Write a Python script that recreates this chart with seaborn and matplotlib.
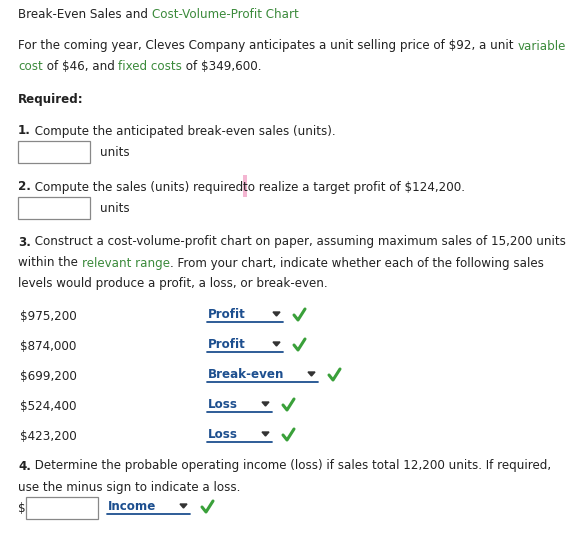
import matplotlib
matplotlib.use("Agg")
import matplotlib.pyplot as plt
import seaborn as sns
from matplotlib.patches import Rectangle, Polygon

sns.set_style("white")
plt.rcParams["font.family"] = ["DejaVu Sans"]

sales_levels = ["$975,200", "$874,000", "$699,200", "$524,400", "$423,200"]
answers = ["Profit", "Profit", "Break-even", "Loss", "Loss"]
answer_widths = [76, 76, 111, 65, 65]

GREEN = "#3b8a3b"
BLUE = "#1d4f8f"
CHECK = "#3aa03a"
FS = 8.6

fig = plt.figure(figsize=(5.81, 5.35), dpi=100)
ax = fig.add_axes([0, 0, 1, 1])
ax.set_xlim(0, 581)
ax.set_ylim(535, 0)
ax.axis("off")
r = fig.canvas.get_renderer()


def runs(x, y, parts, size=FS):
    for txt, col, bold in parts:
        t = ax.text(x, y, txt, color=col, fontsize=size, va="center",
                    fontweight="bold" if bold else "normal")
        bb = t.get_window_extent(renderer=r)
        x += bb.width
    return x


def box(x, y, w=72, h=22):
    ax.add_patch(Rectangle((x, y), w, h, fill=False, ec="#888888", lw=0.9))


def check(x, y):
    ax.plot([x, x + 4, x + 11], [y, y + 5, y - 6], color=CHECK, lw=2.2,
            solid_capstyle="round")


def dropdown(x, y, label, w):
    ax.text(x + 1, y, label, color=BLUE, fontsize=FS, fontweight="bold", va="center")
    ax.plot([x, x + w], [y + 8, y + 8], color=BLUE, lw=1.3)
    tx = x + w - 10
    ax.add_patch(Polygon([[tx, y - 2], [tx + 7, y - 2], [tx + 3.5, y + 2]], color="#333333"))


k = "#222222"
runs(18, 14, [("Break-Even Sales and ", k, False), ("Cost-Volume-Profit Chart", GREEN, False)])
runs(18, 46, [("For the coming year, Cleves Company anticipates a unit selling price of $92, a unit ", k, False),
              ("variable", GREEN, False)])
runs(18, 67, [("cost", GREEN, False), (" of $46, and ", k, False), ("fixed costs", GREEN, False),
              (" of $349,600.", k, False)])
runs(18, 100, [("Required:", k, True)])

runs(18, 131, [("1.", k, True), (" Compute the anticipated break-even sales (units).", k, False)])
box(18, 141)
runs(100, 152, [("units", k, False)])

cx = runs(18, 187, [("2.", k, True), (" Compute the sales (units) required", k, False)])
ax.add_patch(Rectangle((cx, 175), 4, 22, color="#f4b6d2", lw=0))
runs(cx, 187, [("to realize a target profit of $124,200.", k, False)])
box(18, 197)
runs(100, 208, [("units", k, False)])

runs(18, 242, [("3.", k, True), (" Construct a cost-volume-profit chart on paper, assuming maximum sales of 15,200 units", k, False)])
runs(18, 263, [("within the ", k, False), ("relevant range", GREEN, False),
               (". From your chart, indicate whether each of the following sales", k, False)])
runs(18, 284, [("levels would produce a profit, a loss, or break-even.", k, False)])

for i, (lvl, ans, w) in enumerate(zip(sales_levels, answers, answer_widths)):
    y = 316 + 30 * i
    runs(20, y, [(lvl, k, False)])
    dropdown(207, y - 2, ans, w)
    check(207 + w + 11, y - 1)

runs(18, 466, [("4.", k, True), (" Determine the probable operating income (loss) if sales total 12,200 units. If required,", k, False)])
runs(18, 487, [("use the minus sign to indicate a loss.", k, False)])
runs(18, 508, [("$", k, False)])
box(26, 497)
dropdown(107, 506, "Income", 83)
check(202, 507)

fig.savefig("out.png", dpi=100)
